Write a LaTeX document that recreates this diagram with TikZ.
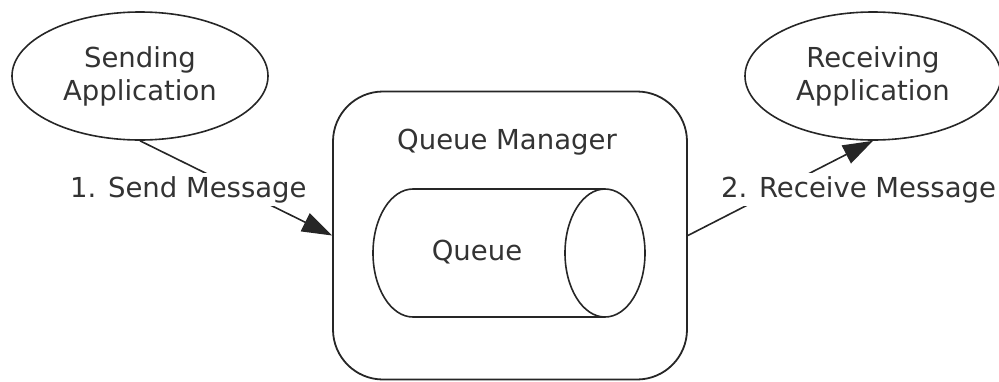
\documentclass[tikz,border=0pt]{standalone}
\usepackage{fontspec}
\setmainfont{DejaVu Sans}
\usetikzlibrary{shapes.geometric,arrows.meta}
\definecolor{ink}{gray}{0.15}
\definecolor{txt}{gray}{0.2}
\begin{document}
\begin{tikzpicture}[x=1pt,y=-1pt,
  every node/.style={font=\fontsize{27.5}{33}\selectfont, text=txt, inner sep=3pt},
  app/.style={draw=ink, line width=1.6pt, ellipse, minimum width=256pt, minimum height=128pt, align=center, inner sep=0pt},
  mgr/.style={draw=ink, line width=1.8pt, rounded corners=50pt, minimum width=354pt, minimum height=288pt, inner sep=0pt},
  conn/.style={draw=ink, line width=1.6pt, -{Triangle[length=30pt,width=20pt]}},
  lbl/.style={fill=white, anchor=base west},
  cyl/.style={draw=ink, line width=1.6pt}]
\useasboundingbox (0,0) rectangle (999,381);
\node[app] (send) at (140,76) {Sending\\Application};
\node[app] (recv) at (873,76) {Receiving\\Application};
\node[mgr] (qm) at (510,235.5) {};
\node (qmt) at (507,142) {Queue Manager};
% cylinder
\draw[cyl] (605,189) -- (413,189) arc[start angle=270, end angle=90, x radius=40, y radius=64] -- (605,317);
\draw[cyl] (605,253) ellipse [x radius=40, y radius=64];
\node (queue) at (477,252) {Queue};
% connectors
\draw[conn] (send.south) -- (qm.west);
\draw[conn] (qm.east) -- (recv.south);
\node[lbl] (l1) at (67,197) {1. Send Message};
\node[lbl] (l2) at (718,197) {2. Receive Message};
\end{tikzpicture}
\end{document}
